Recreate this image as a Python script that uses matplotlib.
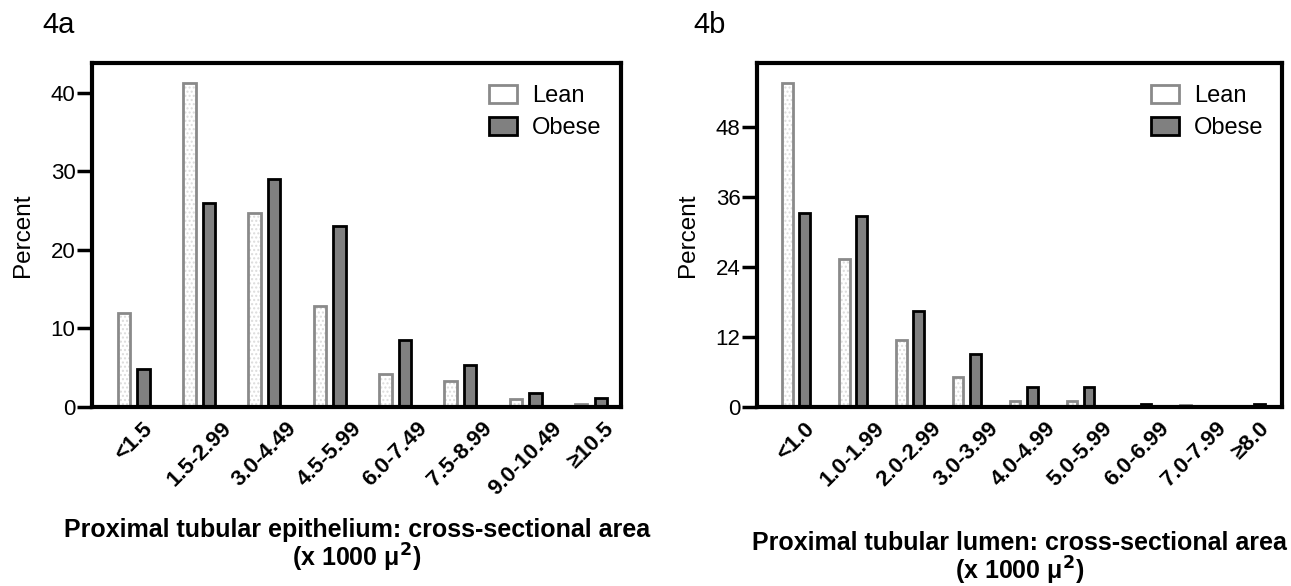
import numpy as np
from matplotlib import pyplot as plt
from matplotlib.patches import Patch

plt.rcParams["font.family"] = ["Liberation Sans", "DejaVu Sans"]

# panel 4a: proximal tubular epithelium
cats_a = ["<1.5", "1.5-2.99", "3.0-4.49", "4.5-5.99", "6.0-7.49",
          "7.5-8.99", "9.0-10.49", "\u226510.5"]
lean_a = [12.0, 41.3, 24.7, 12.9, 4.2, 3.3, 1.0, 0.4]
obese_a = [4.8, 26.0, 29.0, 23.0, 8.5, 5.4, 1.8, 1.2]

# panel 4b: proximal tubular lumen
cats_b = ["<1.0", "1.0-1.99", "2.0-2.99", "3.0-3.99", "4.0-4.99",
          "5.0-5.99", "6.0-6.99", "7.0-7.99", "\u22658.0"]
lean_b = [55.6, 25.3, 11.5, 5.2, 1.0, 1.0, 0.0, 0.4, 0.0]
obese_b = [33.3, 32.8, 16.4, 9.1, 3.4, 3.4, 0.5, 0.0, 0.5]

lean_edge = "#8a8a8a"
obese_face = "#808080"


def draw_panel(ax, cats, lean, obese, ylim, yticks, xlim):
	x = np.arange(len(cats))
	w = 0.19
	# dotted fill of lean bars, then the outline on top
	ax.bar(x - 0.15, lean, w, color="white", hatch="....", edgecolor="#dcdcdc", linewidth=0)
	ax.bar(x - 0.15, lean, w, fill=False, edgecolor=lean_edge, linewidth=2)
	ax.bar(x + 0.15, obese, w, color=obese_face, edgecolor="black", linewidth=2)

	ax.set_xlim(*xlim)
	ax.set_ylim(*ylim)
	ax.set_yticks(yticks)
	ax.set_xticks(x)
	ax.set_xticklabels(cats, rotation=45, ha="center", va="top",
		fontsize=16, fontweight="bold")
	ax.tick_params(axis="x", length=0, pad=8)
	ax.tick_params(axis="y", length=11, width=2.5, labelsize=16, direction="out", pad=1)
	for s in ax.spines.values():
		s.set_linewidth(3)
	ax.set_ylabel("Percent", fontsize=17.5, labelpad=12)

	handles = [Patch(facecolor="white", edgecolor=lean_edge, linewidth=2, label="Lean"),
		Patch(facecolor=obese_face, edgecolor="black", linewidth=2, label="Obese")]
	ax.legend(handles=handles, loc="upper left", bbox_to_anchor=(0.75, 0.937),
		frameon=False, fontsize=17, handlelength=1.19, handleheight=0.8,
		handletextpad=0.64, labelspacing=0.42, borderpad=0, borderaxespad=0)


fig = plt.figure(figsize=(12.91, 5.86), dpi=100)
ax_a = fig.add_axes([0.0713, 0.3055, 0.4098, 0.587])
ax_b = fig.add_axes([0.5864, 0.3055, 0.4067, 0.587])

draw_panel(ax_a, cats_a, lean_a, obese_a, (0, 43.8), [0, 10, 20, 30, 40], (-0.64, 7.46))
draw_panel(ax_b, cats_b, lean_b, obese_b, (0, 59), [0, 12, 24, 36, 48], (-0.68, 8.54))

fig.text(0.033, 0.944, "4a", fontsize=21)
fig.text(0.537, 0.944, "4b", fontsize=21)

fig.text(0.2762, 0.0836, "Proximal tubular epithelium: cross-sectional area",
	ha="center", va="baseline", fontsize=18, fontweight="bold")
fig.text(0.2762, 0.0324, "(x 1000 \u03bc$^{\\mathbf{2}}$)",
	ha="center", va="baseline", fontsize=18, fontweight="bold")
fig.text(0.7898, 0.0620, "Proximal tubular lumen: cross-sectional area",
	ha="center", va="baseline", fontsize=18, fontweight="bold")
fig.text(0.7898, 0.0112, "(x 1000 \u03bc$^{\\mathbf{2}}$)",
	ha="center", va="baseline", fontsize=18, fontweight="bold")

fig.savefig("out.png", dpi=100)
